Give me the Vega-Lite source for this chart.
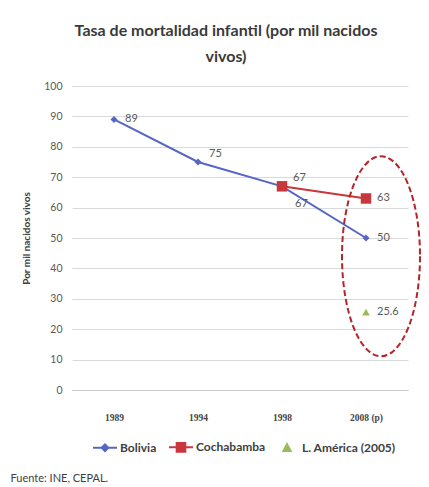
{
  "$schema": "https://vega.github.io/schema/vega-lite/v6.json",
  "width": 336,
  "height": 304,
  "autosize": "none",
  "padding": {"left": 72, "top": 86, "right": 21, "bottom": 97},
  "background": "white",
  "title": {
    "text": ["Tasa de mortalidad infantil (por mil nacidos", "vivos)"],
    "font": "Lato",
    "fontSize": 16,
    "fontWeight": "bold",
    "color": "#3a3a3a",
    "lineHeight": 26,
    "offset": 16,
    "dx": -14
  },
  "config": {
    "view": {"stroke": null},
    "font": "Lato"
  },
  "datasets": {
    "series": [
      {"year": "1989", "series": "Bolivia", "value": 89},
      {"year": "1994", "series": "Bolivia", "value": 75},
      {"year": "1998", "series": "Bolivia", "value": 67},
      {"year": "2008 (p)", "series": "Bolivia", "value": 50},
      {"year": "1998", "series": "Cochabamba", "value": 67},
      {"year": "2008 (p)", "series": "Cochabamba", "value": 63},
      {"year": "2008 (p)", "series": "L. América (2005)", "value": 25.6}
    ],
    "ring": [
      {"year": "2008 (p)", "value": 44}
    ]
  },
  "encoding": {
    "x": {
      "field": "year", "type": "ordinal",
      "sort": ["1989", "1994", "1998", "2008 (p)"],
      "scale": {"type": "point", "padding": 0.5},
      "axis": {
        "labelAngle": 0,
        "labelFont": "Liberation Serif",
        "labelFontSize": 9.5,
        "labelFontWeight": "bold",
        "labelColor": "#444444",
        "labelPadding": 22,
        "ticks": false,
        "domainColor": "#c8c8c8",
        "title": "Fuente: INE, CEPAL.",
        "titleX": -62,
        "titleY": 88,
        "titleAlign": "left",
        "titleAnchor": "start",
        "titleBaseline": "middle",
        "titleFont": "Lato",
        "titleFontSize": 11,
        "titleFontWeight": "normal",
        "titleColor": "#404040"
      }
    },
    "y": {
      "field": "value", "type": "quantitative",
      "scale": {"domain": [0, 100], "nice": false},
      "axis": {
        "values": [0, 10, 20, 30, 40, 50, 60, 70, 80, 90, 100],
        "tickCount": 12,
        "title": "Por mil nacidos vivos",
        "titleFont": "Lato",
        "titleFontSize": 10,
        "titleFontWeight": "bold",
        "titleColor": "#404040",
        "titlePadding": 12,
        "labelFontSize": 10.5,
        "labelColor": "#595959",
        "labelPadding": 10,
        "ticks": false,
        "domain": false,
        "gridColor": "#d9d9d9"
      }
    }
  },
  "layer": [
    {
      "data": {"name": "series"},
      "transform": [{"filter": "datum.series !== 'L. América (2005)'"}],
      "mark": {"type": "line", "strokeWidth": 2},
      "encoding": {
        "color": {
          "field": "series", "type": "nominal",
          "scale": {
            "domain": ["Bolivia", "Cochabamba", "L. América (2005)"],
            "range": ["#5566c4", "#c8373c", "#9bbb59"]
          },
          "legend": {
            "orient": "none",
            "legendX": 20,
            "legendY": 348,
            "direction": "horizontal",
            "title": null,
            "symbolSize": 576,
            "symbolType": "square",
            "columnPadding": 8,
            "labelFont": "Lato",
            "labelFontSize": 12,
            "labelFontWeight": "bold",
            "labelColor": "#404040",
            "labelOffset": 2,
            "symbolOpacity": 1,
            "encode": {
              "symbols": {
                "update": {
                  "shape": {"signal": "datum.value === 'L. América (2005)' ? 'M0,-0.32L0.3,0.24L-0.3,0.24Z' : (datum.value === 'Bolivia' ? 'M-1,0H1M0,-0.28L0.28,0L0,0.28L-0.28,0Z' : 'M-1,0H1M-0.36,-0.36H0.36V0.36H-0.36Z')"},
                  "fill": {"signal": "scale('color', datum.value)"},
                  "stroke": {"signal": "datum.value === 'L. América (2005)' ? 'transparent' : scale('color', datum.value)"},
                  "strokeWidth": {"value": 2},
                  "opacity": {"value": 1}
                }
              }
            }
          }
        },
        "detail": {"field": "series"}
      }
    },
    {
      "data": {"name": "series"},
      "transform": [{"filter": "datum.series === 'Bolivia'"}],
      "mark": {"type": "point", "filled": true, "opacity": 1, "shape": "diamond", "size": 50, "color": "#5566c4"}
    },
    {
      "data": {"name": "series"},
      "transform": [{"filter": "datum.series === 'Cochabamba'"}],
      "mark": {"type": "point", "filled": true, "opacity": 1, "shape": "square", "size": 110, "color": "#c8373c"}
    },
    {
      "data": {"name": "series"},
      "transform": [{"filter": "datum.series === 'L. América (2005)'"}],
      "mark": {"type": "point", "filled": true, "opacity": 1, "shape": "triangle-up", "size": 60, "color": "#9bbb59"}
    },
    {
      "data": {"name": "series"},
      "transform": [{"filter": "!((datum.series === 'Bolivia' && (datum.year === '1994' || datum.year === '1998')) || (datum.series === 'Cochabamba' && datum.year === '1998'))"}],
      "mark": {"type": "text", "align": "left", "baseline": "middle", "dx": 11, "font": "Lato", "fontSize": 11, "color": "#595959"},
      "encoding": {
        "text": {"field": "value", "type": "quantitative"}
      }
    },
    {
      "data": {"name": "series"},
      "transform": [{"filter": "(datum.series === 'Bolivia' && datum.year === '1994') || (datum.series === 'Cochabamba' && datum.year === '1998')"}],
      "mark": {"type": "text", "align": "left", "baseline": "middle", "dx": 11, "dy": -8, "font": "Lato", "fontSize": 11, "color": "#595959"},
      "encoding": {
        "text": {"field": "value", "type": "quantitative"}
      }
    },
    {
      "data": {"name": "series"},
      "transform": [{"filter": "datum.series === 'Bolivia' && datum.year === '1998'"}],
      "mark": {"type": "text", "align": "left", "baseline": "middle", "dx": 13, "dy": 18, "font": "Lato", "fontSize": 11, "color": "#595959"},
      "encoding": {
        "text": {"field": "value", "type": "quantitative"}
      }
    },
    {
      "data": {"name": "ring"},
      "mark": {
        "type": "point",
        "filled": false,
        "shape": "M0.54,0C0.54,0.5523,0.3654,1,0.15,1C-0.0654,1,-0.24,0.5523,-0.24,0C-0.24,-0.5523,-0.0654,-1,0.15,-1C0.3654,-1,0.54,-0.5523,0.54,0Z",
        "size": 40000,
        "stroke": "#b3252b",
        "strokeWidth": 2,
        "strokeDash": [6, 3],
        "opacity": 1
      }
    }
  ]
}
